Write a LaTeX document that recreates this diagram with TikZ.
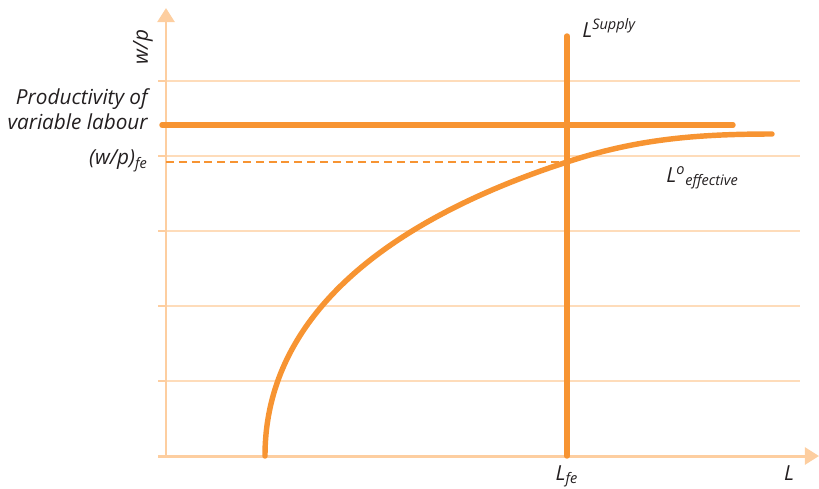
\documentclass[tikz,border=0pt]{standalone}
\usepackage{fontspec}
\setmainfont{Open Sans}
\usetikzlibrary{arrows.meta,positioning,calc}
\definecolor{labourOrange}{RGB}{247,148,50}
\definecolor{labourAxis}{RGB}{253,206,160}
\definecolor{labourGrid}{RGB}{254,220,186}
\definecolor{labourText}{RGB}{35,31,32}

\begin{document}
\begin{tikzpicture}[
  x=0.02cm, y=-0.02cm,
  axisline/.style={labourAxis, line width=1.7pt, -{Triangle[length=8pt, width=9.6pt]}},
  gridline/.style={labourGrid, line width=0.6pt},
  tickmark/.style={labourAxis, line width=1.1pt},
  curveline/.style={labourOrange, line width=3.1pt, line cap=round},
  guideline/.style={labourOrange, line width=1.4pt, dash pattern=on 4.5pt off 2.8pt},
  lbl/.style={font=\fontsize{11.8}{14.2}\selectfont\itshape, text=labourText, inner sep=0pt}
]
\useasboundingbox (0,0) rectangle (819,488);

% grid and axes
\foreach \gy in {81,156,231,306,381} {
  \draw[gridline] (158,\gy) -- (800,\gy);
  \draw[tickmark] (158,\gy) -- (166,\gy);
}
\coordinate (origin) at (166,456);
\coordinate (ytop) at (166,8);
\coordinate (xleft) at (158,456);
\coordinate (xright) at (819,456);
\draw[axisline] (origin) -- (ytop);
\draw[axisline] (xleft) -- (xright);

% productivity of variable labour
\coordinate (prodstart) at (162,125);
\coordinate (prodend) at (733,125);
\draw[curveline] (prodstart) -- (prodend);

% full employment
\coordinate (fe) at (567,162);
\coordinate (fewage) at (166,162);
\draw[guideline] (fewage) -- (fe);

% effective labour demand
\coordinate (lstart) at (265,456);
\coordinate (lend) at (772,134);
\draw[curveline] (lstart) .. controls (265,306) and (405,214.5) .. (fe)
  .. controls (634,140) and (692,134) .. (lend);

% labour supply
\coordinate (supplytop) at (567,36);
\coordinate (supplybottom) at (567,456);
\draw[curveline] (supplytop) -- (supplybottom);

% labels
\node[lbl, rotate=90] (wp) at (143,47) {w/p};
\node[lbl, align=right, anchor=east] (prod) at (148,109) {Productivity of\\variable labour};
\node[lbl, anchor=east] (wpfe) at (148,161) {(w/p)\textsubscript{fe}};
\node[lbl, anchor=base west] (supply) at (582,37) {L\textsuperscript{Supply}};
\node[lbl, anchor=base west] (effective) at (666,182) {L\textsuperscript{o}\textsubscript{effective}};
\node[lbl, anchor=base] (lfe) at (567,480) {L\textsubscript{fe}};
\node[lbl, anchor=base] (lx) at (789,480) {L};
\end{tikzpicture}
\end{document}
